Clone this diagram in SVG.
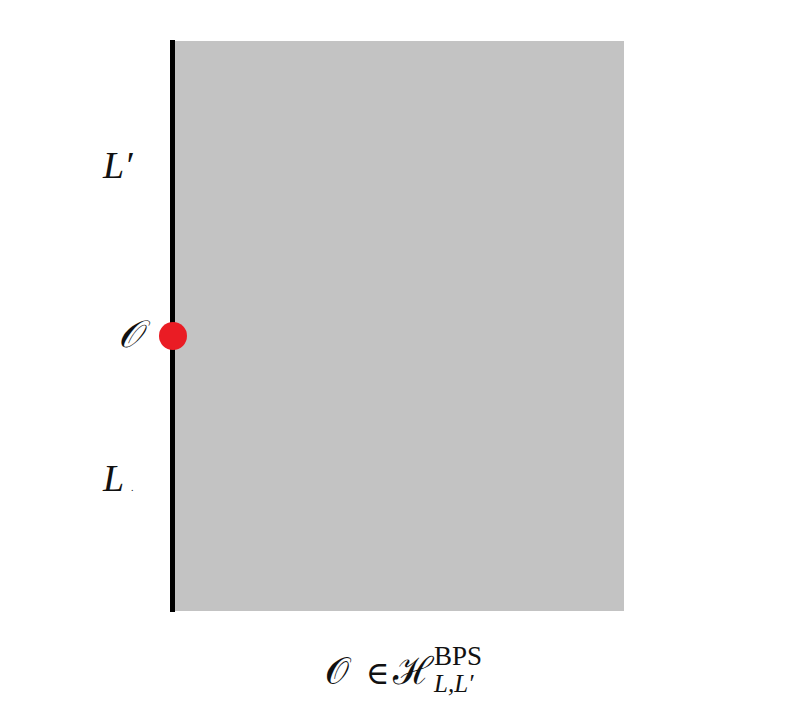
<svg xmlns="http://www.w3.org/2000/svg" width="788" height="710" viewBox="0 0 788 710">
<style>
.m{font-family:"Liberation Serif","DejaVu Serif",serif;fill:#111}
.i{font-style:italic}
</style>
<rect width="788" height="710" fill="#fff"/>
<g id="region"><rect x="173" y="41" width="451" height="570" fill="#c3c3c3"/></g>
<g id="connectors"><line x1="172.5" y1="40" x2="172.5" y2="612" stroke="#000" stroke-width="5"/></g>
<g id="operator"><circle cx="173" cy="336" r="14" fill="#ea1c24"/></g>
<g id="labels">
<text class="m i" x="103" y="178" font-size="38">L′</text>
<text class="m i" x="118" y="347" font-size="38">𝒪</text>
<text class="m i" x="103" y="491" font-size="38">L</text>
<text class="m" x="131" y="491" font-size="10">.</text>
</g>
<g id="formula">
<text class="m" x="325" y="684" font-size="38">𝒪</text>
<text class="m" x="366" y="684" font-size="32">∈</text>
<text class="m" x="393" y="684" font-size="38">ℋ</text>
<text class="m" x="434" y="665" font-size="27">BPS</text>
<text class="m i" x="434" y="692" font-size="25">L,L′</text>
</g>
</svg>
